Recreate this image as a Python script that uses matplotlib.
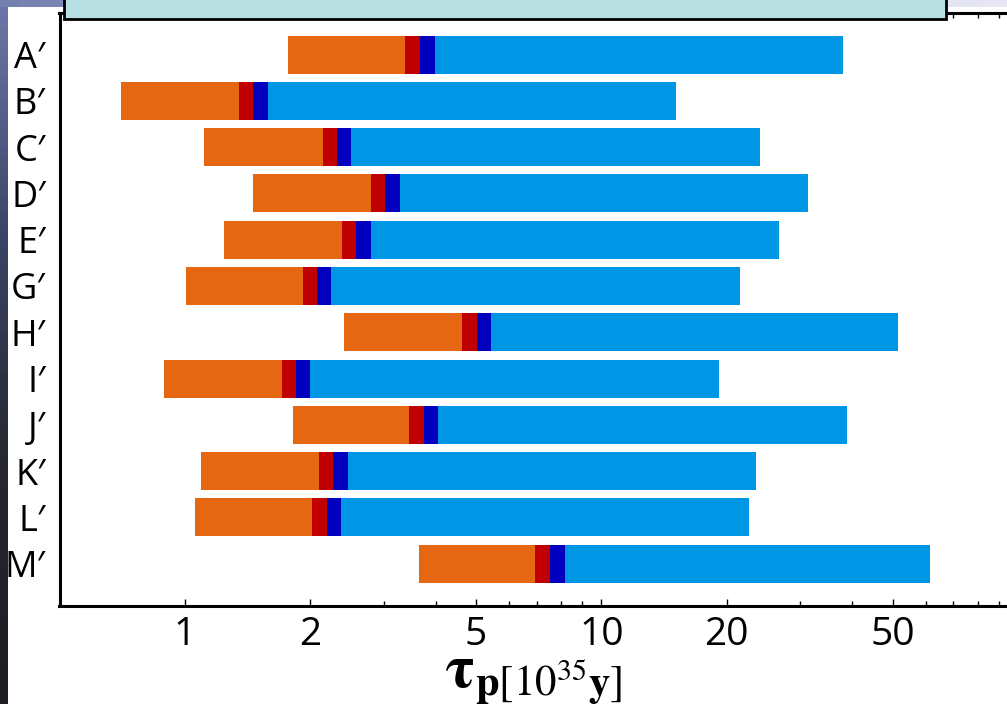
import numpy as np
import matplotlib
matplotlib.use('Agg')
import matplotlib.pyplot as plt
from matplotlib.patches import Rectangle
from matplotlib.ticker import FixedLocator, NullFormatter

plt.rcParams['mathtext.fontset'] = 'stix'

# 模型名称
models = ["A′", "B′", "C′", "D′", "E′", "G′", "H′", "I′", "J′", "K′", "L′", "M′"]

# 质子寿命区间边界 [10^35 y]
tau_start = [1.771, 0.704, 1.110, 1.457, 1.243, 1.005, 2.410, 0.893, 1.814, 1.092, 1.055, 3.644]
tau_red = [3.373, 1.347, 2.142, 2.794, 2.379, 1.924, 4.616, 1.710, 3.453, 2.103, 2.015, 6.937]
tau_blue = [3.664, 1.457, 2.314, 3.018, 2.571, 2.080, 5.014, 1.847, 3.746, 2.272, 2.190, 7.522]
tau_light = [3.981, 1.586, 2.510, 3.275, 2.794, 2.247, 5.419, 1.993, 4.048, 2.464, 2.366, 8.176]
tau_end = [37.95, 15.11, 23.96, 31.26, 26.62, 21.54, 51.65, 19.14, 38.88, 23.53, 22.60, 61.65]

major_ticks = [1, 2, 5, 10, 20, 50]
minor_ticks = [3, 4, 6, 7, 8, 9, 30, 40, 60, 70, 80, 90]

colors = ['#E66712', '#C00000', '#0000BE', '#0096E6']

W, H = 1007, 704
fig = plt.figure(figsize=(W / 100, H / 100), dpi=100)
fig.patch.set_facecolor('white')

# 背景边条
bg = fig.add_axes([0, 0, 1, 1])
bg.axis('off')
side = np.linspace(0, 1, 100)[:, None]
side_cmap = matplotlib.colors.LinearSegmentedColormap.from_list(
    'side', ['#6c78a8', '#3a4466', '#26282e', '#1e1e22'])
bg.imshow(side, cmap=side_cmap, extent=[0, 7.5, H, 0], aspect='auto')
top = np.linspace(0, 1, 100)[None, :]
top_cmap = matplotlib.colors.LinearSegmentedColormap.from_list(
    'top', ['#7480b0', '#9aa2c8', '#d8dbee', '#e6e6f4'])
bg.imshow(top, cmap=top_cmap, extent=[0, W, 7, 0], aspect='auto')
bg.set_xlim(0, W)
bg.set_ylim(H, 0)

# 主图
ax = fig.add_axes([59.5 / W, (H - 606) / H, (1018 - 59.5) / W, (606 - 12.5) / H])
ax.set_facecolor('white')
y = np.arange(len(models))
edges = [np.array(tau_red), np.array(tau_blue), np.array(tau_light), np.array(tau_end)]
left = np.array(tau_start)
for c, e in zip(colors, edges):
    ax.barh(y, e - left, left=left, height=0.82, color=c, edgecolor='none')
    left = e

ax.set_xscale('log')
ax.set_xlim(0.5, 100)
ax.set_ylim(11.914, -0.908)
ax.xaxis.set_major_locator(FixedLocator(major_ticks))
ax.xaxis.set_minor_locator(FixedLocator(minor_ticks))
ax.xaxis.set_minor_formatter(NullFormatter())
ax.set_xticklabels([str(t) for t in major_ticks])
ax.set_yticks(y)
ax.set_yticklabels(models)
ax.tick_params(axis='x', which='major', direction='in', length=5, width=1,
               top=True, labelsize=28, pad=7)
ax.tick_params(axis='x', which='minor', direction='in', length=3.5, width=1, top=True)
ax.tick_params(axis='y', length=0, labelsize=26, pad=10)
for lab in ax.get_xticklabels() + ax.get_yticklabels():
    lab.set_family(['Open Sans', 'DejaVu Sans'])
for s in ax.spines.values():
    s.set_linewidth(2.2)
    s.set_color('black')

# 横轴标题
fig.text(533 / W, 1 - 688 / H, r'$\mathbf{\tau}_{\mathbf{p}[10^{35}\mathbf{y}]}$',
         fontsize=44, ha='center', va='baseline', math_fontfamily='stix')

# 顶部标题框
ov = fig.add_axes([0, 0, 1, 1], facecolor='none')
ov.set_xlim(0, W)
ov.set_ylim(H, 0)
ov.axis('off')
ov.add_patch(Rectangle((64, -10), 946 - 64, 29, facecolor='#B9E0E3',
                       edgecolor='black', linewidth=2))

fig.savefig('out.png', dpi=100)
